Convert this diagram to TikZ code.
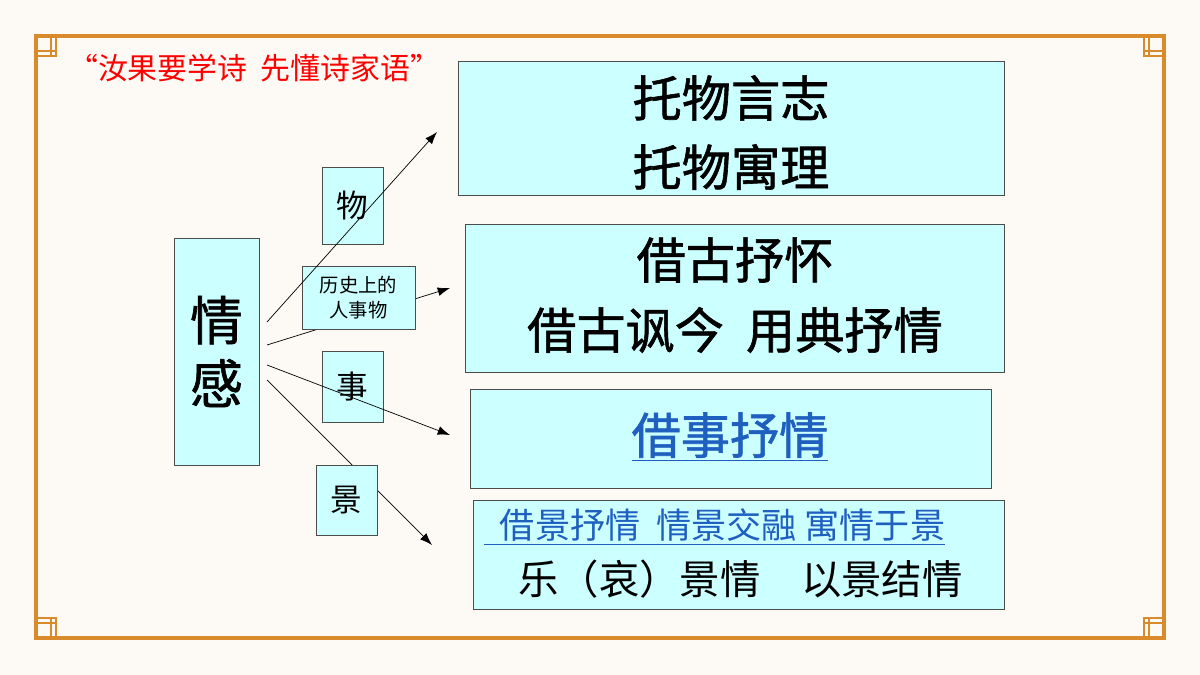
\documentclass[tikz,border=0pt]{standalone}
\usepackage{fontspec}
\setmainfont{Noto Sans CJK SC}
\newfontfamily\midfont{Noto Sans CJK SC}[FakeBold=1.2]
\usepackage{tikz}
\usetikzlibrary{arrows.meta}
\definecolor{bgcol}{HTML}{FDFAF5}
\definecolor{framecol}{HTML}{D98A2B}
\definecolor{boxcol}{HTML}{CCFFFF}
\definecolor{linkcol}{HTML}{1F5FBF}
\tikzset{
  box/.style={draw=black!70, fill=boxcol, inner sep=0pt},
  link/.style={-{Latex[length=7pt,width=5pt]}, thin}
}
\begin{document}
\begin{tikzpicture}[x=0.02cm, y=-0.02cm]
            %% background and frame
            \fill[bgcol] (0,0) rectangle (1200,675);
            \draw[framecol, line width=2pt] (36,36) rectangle (1164,638);
            \foreach \cx/\cy/\sx/\sy in {36/36/1/1, 1164/36/-1/1, 36/638/1/-1, 1164/638/-1/-1} {
              \draw[framecol, line width=1.6pt] (\cx,\cy) rectangle ++(20*\sx,20*\sy);
              \draw[framecol, line width=1.6pt] (\cx,\cy+15*\sy) -- ++(20*\sx,0);
              \draw[framecol, line width=1.6pt] (\cx+15*\sx,\cy) -- ++(0,20*\sy);
            }

            %% title
            \node[red, font=\fontsize{17}{20}\selectfont, anchor=west] (title) at (62,68) {“汝果要学诗\ \ 先懂诗家语”};

            %% right boxes
            \draw[box] (458,61) rectangle (1004,195);
            \node[font=\fontsize{28}{32}\selectfont\midfont] (tw1) at (731,98) {托物言志};
            \node[font=\fontsize{28}{32}\selectfont\midfont] (tw2) at (731,167) {托物寓理};

            \draw[box] (465,224) rectangle (1004,372);
            \node[font=\fontsize{28}{32}\selectfont\midfont] (jg1) at (735,260) {借古抒怀};
            \node[font=\fontsize{28}{32}\selectfont\midfont] (jg2) at (735,330) {借古讽今\ \ 用典抒情};

            \draw[box] (470,389) rectangle (991,488);
            \node[linkcol, font=\fontsize{28}{32}\selectfont\midfont] (js) at (730,437) {\underline{借事抒情}};

            \draw[box] (473,500) rectangle (1004,609);
            \node[linkcol, font=\fontsize{20}{24}\selectfont, anchor=west] (jj1) at (478,527) {\underline{\ \ 借景抒情\ \ 情景交融\ 寓情于景}};
            \node[font=\fontsize{23}{27}\selectfont, anchor=west] (jj2) at (512,579) {乐（哀）景情\quad 以景结情};

            %% left part
            \coordinate (s1) at (267,322);
            \coordinate (s2) at (267,345);
            \coordinate (s3) at (267,365);
            \coordinate (s4) at (267,380);
            \coordinate (e1) at (437,132);
            \coordinate (e2) at (450,288);
            \coordinate (e3) at (450,435);
            \coordinate (e4) at (432,545);

            % behind boxes
            \draw[link] (s2) -- (e2);
            \draw[link] (s4) -- (e4);

            \node[box, minimum width=1.7cm, minimum height=4.54cm, font=\fontsize{30}{36}\selectfont\midfont, align=center] (qg) at (216.5,351.5) {情\\感};
            \node[box, minimum width=1.22cm, minimum height=1.54cm, font=\fontsize{18}{20}\selectfont] (wu) at (352.5,205.5) {物};
            \node[box, minimum width=2.26cm, minimum height=1.26cm, font=\fontsize{11}{14}\selectfont, align=center] (ls) at (358.5,297.5) {历史上的\\人事物};
            \node[box, minimum width=1.22cm, minimum height=1.42cm, font=\fontsize{18}{20}\selectfont] (shi) at (352.5,386.5) {事};
            \node[box, minimum width=1.22cm, minimum height=1.4cm, font=\fontsize{18}{20}\selectfont] (jing) at (346.5,500) {景};

            % over boxes
            \draw[link] (s1) -- (e1);
            \draw[link] (s3) -- (e3);
\end{tikzpicture}
\end{document}
